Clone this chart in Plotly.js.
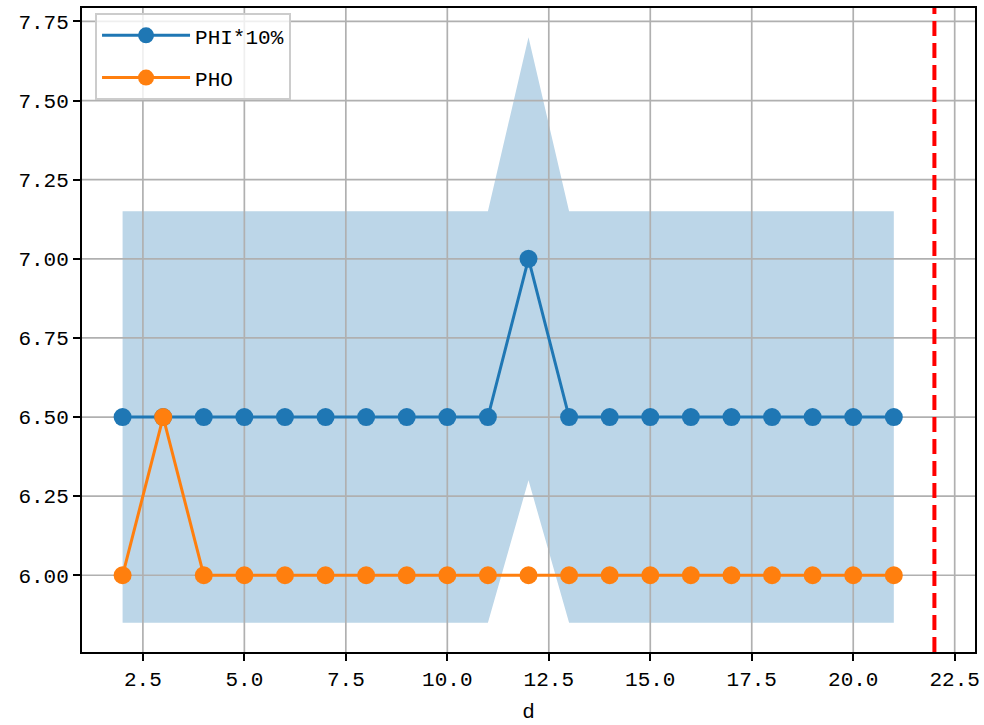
<!DOCTYPE html>
<html>
<head>
<meta charset="utf-8">
<script src="https://cdn.plot.ly/plotly-3.0.1.min.js"></script>
<style>html,body{margin:0;padding:0;background:#fff}#chart{width:984px;height:725px}</style>
</head>
<body>
<div id="chart"></div>
<script>
const days = [2,3,4,5,6,7,8,9,10,11,12,13,14,15,16,17,18,19,20,21];
const phi = [6.5,6.5,6.5,6.5,6.5,6.5,6.5,6.5,6.5,6.5,7.0,6.5,6.5,6.5,6.5,6.5,6.5,6.5,6.5,6.5];
const pho = [6.0,6.5,6.0,6.0,6.0,6.0,6.0,6.0,6.0,6.0,6.0,6.0,6.0,6.0,6.0,6.0,6.0,6.0,6.0,6.0];
const bandLow = [5.85,5.85,5.85,5.85,5.85,5.85,5.85,5.85,5.85,5.85,6.3,5.85,5.85,5.85,5.85,5.85,5.85,5.85,5.85,5.85];
const bandHigh = [7.15,7.15,7.15,7.15,7.15,7.15,7.15,7.15,7.15,7.15,7.7,7.15,7.15,7.15,7.15,7.15,7.15,7.15,7.15,7.15];
const markerDay = 22;
const xTicks = [2.5,5.0,7.5,10.0,12.5,15.0,17.5,20.0,22.5];
const yTicks = [6.00,6.25,6.50,6.75,7.00,7.25,7.50,7.75];
const xRange = [1, 23];
const yRange = [5.7575, 7.7925];

const FONT = 'Liberation Mono, DejaVu Sans Mono, monospace';
const blue = '#1f77b4', orange = '#ff7f0e';

const traces = [];
traces.push({x: days, y: bandLow, mode: 'lines', line: {width: 0}, showlegend: false, hoverinfo: 'skip'});
traces.push({x: days, y: bandHigh, mode: 'lines', line: {width: 0}, fill: 'tonexty', fillcolor: 'rgb(188,214,232)', showlegend: false, hoverinfo: 'skip'});
// grid lines drawn above the band (as matplotlib does)
const gx = [], gy = [];
xTicks.forEach(t => { gx.push(t, t, null); gy.push(yRange[0], yRange[1], null); });
yTicks.forEach(t => { gx.push(xRange[0], xRange[1], null); gy.push(t, t, null); });
traces.push({x: gx, y: gy, mode: 'lines', line: {color: '#b0b0b0', width: 1.7}, showlegend: false, hoverinfo: 'skip', connectgaps: false});
traces.push({x: days, y: phi, name: 'PHI*10%', legendgroup: 'a', mode: 'lines+markers', line: {color: blue, width: 3}, marker: {color: blue, size: 18}});
traces.push({x: days, y: pho, name: 'PHO', legendgroup: 'b', mode: 'lines+markers', line: {color: orange, width: 3}, marker: {color: orange, size: 18}});

const layout = {
  width: 984, height: 725,
  margin: {l: 82, r: 9, t: 8, b: 73},
  paper_bgcolor: '#fff', plot_bgcolor: '#fff',
  font: {family: FONT, size: 21, color: '#000'},
  xaxis: {
    range: xRange, tickvals: xTicks, ticktext: xTicks.map(v => v.toFixed(1)),
    showgrid: false, zeroline: false,
    showline: true, linecolor: '#000', linewidth: 2, mirror: true,
    ticks: 'outside', ticklen: 7, tickwidth: 2, tickcolor: '#000',
    tickfont: {family: FONT, size: 21},
    title: {text: 'd', font: {family: FONT, size: 21}, standoff: 12}
  },
  yaxis: {
    range: yRange, tickvals: yTicks, ticktext: yTicks.map(v => v.toFixed(2)),
    showgrid: false, zeroline: false,
    showline: true, linecolor: '#000', linewidth: 2, mirror: true,
    ticks: 'outside', ticklen: 7, tickwidth: 2, tickcolor: '#000',
    tickfont: {family: FONT, size: 21}
  },
  shapes: [{
    type: 'line', xref: 'x', yref: 'paper', x0: markerDay, x1: markerDay, y0: 0, y1: 1,
    line: {color: 'red', width: 4, dash: '15px,7px'}, layer: 'above'
  }],
  legend: {
    x: 0.0146, y: 0.992, xanchor: 'left', yanchor: 'top',
    bgcolor: 'rgba(255,255,255,0.8)', bordercolor: '#cccccc', borderwidth: 2,
    font: {family: FONT, size: 21}, traceorder: 'grouped', tracegroupgap: 12, itemwidth: 88
  },
  showlegend: true
};

Plotly.newPlot('chart', traces, layout, {displayModeBar: false, staticPlot: true});
</script>
</body>
</html>
